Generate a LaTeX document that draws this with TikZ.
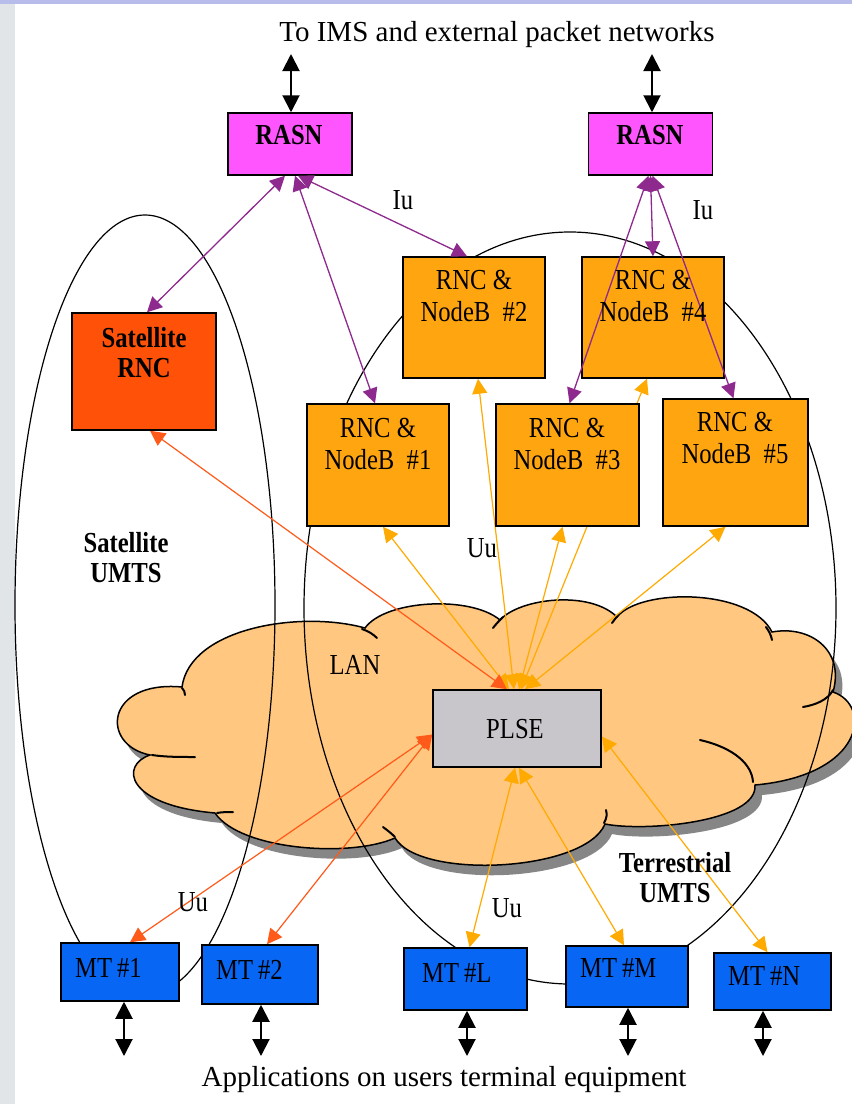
\documentclass[tikz,border=0pt]{standalone}
\usepackage{fontspec}
\setmainfont{Liberation Serif}
\newfontfamily\cnd{Liberation Serif}[FakeStretch=0.85]
\usetikzlibrary{arrows.meta,calc}
\definecolor{rasnmag}{HTML}{FF55FF}
\definecolor{satred}{HTML}{FF5208}
\definecolor{rncorange}{HTML}{FFA50F}
\definecolor{mtblue}{HTML}{0866F5}
\definecolor{plsegray}{HTML}{C8C6CA}
\definecolor{cloudfill}{HTML}{FFC77F}
\definecolor{shadowgray}{HTML}{868686}
\definecolor{purp}{HTML}{8E2A8E}
\definecolor{orarrow}{HTML}{FFAA00}
\definecolor{redarrow}{HTML}{FF5A1A}
\definecolor{leftstrip}{HTML}{E1E5E7}
\definecolor{topstrip}{HTML}{B8BCEA}
\pgfdeclarelayer{bg}
\pgfdeclarelayer{back}
\pgfsetlayers{bg,back,main}
\tikzset{
  nbox/.style={draw=black, line width=1.5pt, inner sep=0pt},
  rncbox/.style={nbox, fill=rncorange, minimum width=142pt, minimum height=121pt},
  mtbox/.style={nbox, fill=mtblue},
  lbl/.style={inner sep=0pt, align=center, font=\cnd\fontsize{29}{32}\selectfont},
  blbl/.style={inner sep=0pt, align=center, font=\cnd\fontsize{29}{30}\selectfont\bfseries},
  mtlbl/.style={inner sep=0pt, anchor=west, font=\cnd\fontsize{29}{30}\selectfont},
  colhead/.style={{Triangle[length=15pt,width=15pt]}-{Triangle[length=15pt,width=15pt]}},
  pu/.style={draw=purp, line width=1.3pt, colhead},
  oa/.style={draw=orarrow, line width=1.2pt, colhead},
  ra/.style={draw=redarrow, line width=1.2pt, colhead},
  blk/.style={draw=black, line width=2pt, {Triangle[length=17pt,width=17pt]}-{Triangle[length=17pt,width=17pt]}},
  ell/.style={draw=black, line width=1.2pt},
  tail/.style={draw=black, line width=2pt, line cap=round}
}
\begin{document}
\begin{tikzpicture}[x=1pt, y=-1pt]
\useasboundingbox (0,0) rectangle (852,1104);
\begin{pgfonlayer}{bg}
  \fill[white] (0,0) rectangle (852,1104);
  \fill[leftstrip] (0,0) rectangle (15,1104);
  \fill[topstrip] (0,0) rectangle (852,4);
  \def\cloudpath{(182,687) .. controls (190,628) and (300,610) .. (365,628)
    .. controls (385,600) and (470,595) .. (500,620)
    .. controls (520,598) and (590,590) .. (617,617)
    .. controls (640,588) and (750,588) .. (772,632)
    .. controls (810,625) and (845,650) .. (833,692)
    .. controls (872,705) and (865,775) .. (755,785)
    .. controls (758,822) and (645,832) .. (605,824)
    .. controls (585,872) and (420,880) .. (395,838)
    .. controls (350,858) and (240,850) .. (215,813)
    .. controls (125,805) and (120,765) .. (150,755)
    .. controls (100,745) and (105,680) .. (182,687) -- cycle}
  \fill[shadowgray, shift={(7,10)}] \cloudpath;
  \filldraw[fill=cloudfill, draw=black, line width=1.5pt] \cloudpath;
  % cloud inner strokes
  \draw[tail] (362,629) .. controls (368,631) and (373,634) .. (377,638);
  \draw[tail] (503,617) .. controls (499,621) and (496,624) .. (493,628);
  \draw[tail] (619,614) .. controls (616,618) and (614,620) .. (612,623);
  \draw[tail] (766,627) .. controls (769,631) and (771,635) .. (772,640);
  \draw[tail] (833,690) .. controls (828,700) and (815,705) .. (803,707);
  \draw[tail] (753,782) .. controls (752,765) and (735,748) .. (700,740);
  \draw[tail] (604,823) .. controls (607,818) and (607,814) .. (606,810);
  \draw[tail] (395,837) .. controls (391,833) and (387,830) .. (383,827);
  \draw[tail] (217,813) .. controls (222,812) and (228,812) .. (233,812);
  \draw[tail] (152,755) .. controls (165,757) and (180,757) .. (195,757);
  \draw[tail] (182,688) .. controls (184,690) and (185,692) .. (185,695);
\end{pgfonlayer}

% boxes
\node[nbox, fill=rasnmag, minimum width=124pt, minimum height=62pt] (rasnA) at (290,144) {};
\node[nbox, fill=rasnmag, minimum width=124pt, minimum height=62pt] (rasnB) at (650.5,144) {};
\node[nbox, fill=satred, minimum width=144pt, minimum height=117pt] (satrnc) at (144,371.5) {};
\node[rncbox] (r2) at (474,317.5) {};
\node[rncbox] (r4) at (653,317.5) {};
\node[rncbox, minimum height=122pt] (r1) at (378,465) {};
\node[rncbox, minimum width=143pt, minimum height=122pt] (r3) at (567.5,465) {};
\node[rncbox, minimum width=145pt, minimum height=127pt] (r5) at (735.5,462.5) {};
\node[nbox, fill=plsegray, minimum width=168pt, minimum height=77pt] (plse) at (517,728.5) {};
\node[mtbox, minimum width=118pt, minimum height=58pt] (mt1) at (120,972) {};
\node[mtbox, minimum width=116pt, minimum height=59pt] (mt2) at (260,974.5) {};
\node[mtbox, minimum width=123pt, minimum height=62pt] (mtL) at (465.5,979) {};
\node[mtbox, minimum width=122pt, minimum height=61pt] (mtM) at (627,976.5) {};
\node[mtbox, minimum width=117pt, minimum height=57pt] (mtN) at (772.5,981.5) {};

\begin{pgfonlayer}{back}
  % ellipses
  \draw[ell] (145,605) ellipse [x radius=130pt, y radius=390pt];
  \draw[ell] (570,608) ellipse [x radius=266pt, y radius=376pt];
  % orange / red connectors
  \draw[oa] ([xshift=-8pt]plse.north) -- ([xshift=5pt]r1.south);
  \draw[oa] ([xshift=-3pt]plse.north) -- ([xshift=4pt]r2.south);
  \draw[oa] ([xshift=2pt]plse.north) -- ([xshift=-5pt]r3.south);
  \draw[oa] ([xshift=4pt]plse.north) -- ([xshift=-6pt]r4.south);
  \draw[oa] ([xshift=8pt]plse.north) -- ([xshift=-10pt]r5.south);
  \draw[ra] ([xshift=-10pt]plse.north) -- ([xshift=6pt]satrnc.south);
  \draw[ra] ([yshift=-6pt]plse.west) -- ([xshift=10pt]mt1.north);
  \draw[ra] ([yshift=-6pt]plse.west) -- ([xshift=7pt]mt2.north);
  \draw[oa] ([xshift=-2pt]plse.south) -- ([xshift=4pt]mtL.north);
  \draw[oa] ([xshift=2pt]plse.south) -- ([xshift=-3pt]mtM.north);
  \draw[oa] ([yshift=-8pt]plse.east) -- ([xshift=-5pt]mtN.north);
\end{pgfonlayer}

% purple connectors (on top)
\draw[pu] ([xshift=-5pt]rasnA.south) -- ([xshift=3pt]satrnc.north);
\draw[pu] ([xshift=5pt]rasnA.south) -- ([xshift=-3pt]r1.north);
\draw[pu] ([xshift=8pt]rasnA.south) -- ([xshift=-7pt]r2.north);
\draw[pu] (rasnB.south) -- (r4.north);
\draw[pu] ([xshift=-2pt]rasnB.south) -- ([xshift=2pt]r3.north);
\draw[pu] ([xshift=2pt]rasnB.south) -- ([xshift=-2pt]r5.north);

% black external arrows
\coordinate (tA) at (291,54);
\coordinate (tB) at (652,54);
\draw[blk] (tA) -- ([xshift=1pt]rasnA.north);
\draw[blk] (tB) -- ([xshift=1.5pt]rasnB.north);
\coordinate (b1) at (124,1056);
\coordinate (b2) at (261,1056);
\coordinate (bL) at (467,1056);
\coordinate (bM) at (628,1056);
\coordinate (bN) at (763,1056);
\draw[blk] ([xshift=4pt]mt1.south) -- (b1);
\draw[blk] ([xshift=1pt]mt2.south) -- (b2);
\draw[blk] ([xshift=1.5pt]mtL.south) -- (bL);
\draw[blk] ([xshift=1pt]mtM.south) -- (bM);
\draw[blk] ([xshift=-9.5pt]mtN.south) -- (bN);

% texts
\node[inner sep=0pt, font=\fontsize{29}{32}\selectfont] (title) at (497,35) {To IMS and external packet networks};
\node[inner sep=0pt, font=\fontsize{29}{32}\selectfont] (bottom) at (444,1080) {Applications on users terminal equipment};
\node[blbl] (rasnAt) at (289,135) {RASN};
\node[blbl] (rasnBt) at (650,135) {RASN};
\node[blbl] (satrnct) at (144,352.5) {Satellite\\RNC};
\node[lbl] (r2t) at (474,296) {RNC \&\\NodeB~~\#2};
\node[lbl] (r4t) at (653,296) {RNC \&\\NodeB~~\#4};
\node[lbl] (r1t) at (378,443.5) {RNC \&\\NodeB~~\#1};
\node[lbl] (r3t) at (567,443.5) {RNC \&\\NodeB~~\#3};
\node[lbl] (r5t) at (735,438) {RNC \&\\NodeB~~\#5};
\node[lbl] (plset) at (515,729) {PLSE};
\node[lbl] (lan) at (355,665) {LAN};
\node[lbl] (iu1) at (403,200) {Iu};
\node[lbl] (iu2) at (703,210) {Iu};
\node[lbl] (uu1) at (482,548) {Uu};
\node[lbl] (uu2) at (193,902) {Uu};
\node[lbl] (uu3) at (507,908) {Uu};
\node[blbl] (satumts) at (126,558) {Satellite\\UMTS};
\node[blbl] (terumts) at (675,878) {Terrestrial\\UMTS};
\node[mtlbl] (mt1t) at (75,968) {MT\,\#1};
\node[mtlbl] (mt2t) at (216,970) {MT\,\#2};
\node[mtlbl] (mtLt) at (422,973) {MT\,\#L};
\node[mtlbl] (mtMt) at (580,968) {MT\,\#M};
\node[mtlbl] (mtNt) at (728,976) {MT\,\#N};
\end{tikzpicture}
\end{document}
